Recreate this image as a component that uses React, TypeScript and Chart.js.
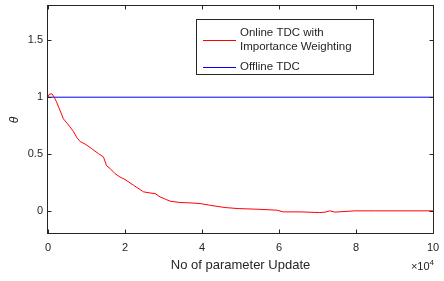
import React, { useEffect, useRef } from "react";
import { Chart, registerables } from "chart.js";
Chart.register(...registerables);

// Online TDC with Importance Weighting (x in parameter updates)
const onlineX = [0, 300, 1000, 1600, 2200, 3100, 4000, 5000, 5700, 6600, 7400, 8400, 9600, 11300, 13100, 14400, 15200, 16100, 17400, 18700, 20000, 22200, 24800, 26500, 27800, 29100, 30500, 31700, 34300, 36900, 39500, 41900, 46000, 49400, 54600, 59400, 61100, 65500, 70600, 72000, 73200, 74500, 79700, 85000, 100000];
const onlineY = [1.0, 1.025, 1.03, 1.0, 0.96, 0.886, 0.81, 0.77, 0.74, 0.7, 0.65, 0.61, 0.59, 0.55, 0.505, 0.476, 0.4, 0.375, 0.33, 0.3, 0.278, 0.228, 0.17, 0.16, 0.155, 0.126, 0.105, 0.088, 0.076, 0.073, 0.067, 0.053, 0.032, 0.023, 0.017, 0.009, -0.006, -0.006, -0.012, -0.008, 0.003, -0.008, 0.003, 0.003, 0.003];

// Offline TDC
const offlineX = [0, 100000];
const offlineY = [1.0, 1.0];

const xTicks = [0, 20000, 40000, 60000, 80000, 100000];
const yTicks = [0, 0.5, 1, 1.5];
const xTitle = "No of parameter Update";
const yTitle = "\u03b8";
const xExponent = "4";
const legendLines = [["Online TDC with", "Importance Weighting"], ["Offline TDC"]];
const seriesColors = ["#ff0000", "#0000ff"];

const AXIS = "#262626";
const FONT = "'Liberation Sans', Arial, sans-serif";

const deco = {
  id: "deco",
  afterDatasetsDraw(chart: any) {
    const { ctx, chartArea: a, scales } = chart;
    const xs = scales.x;
    const ys = scales.y;
    ctx.save();
    ctx.strokeStyle = AXIS;
    ctx.lineWidth = 1;
    const L = Math.round(a.left) - 0.5, R = Math.round(a.right) + 0.5, T = Math.round(a.top) - 0.5, B = Math.round(a.bottom) - 0.5;
    ctx.strokeRect(L, T, R - L, B - T);
    const tl = 4;
    ctx.beginPath();
    for (const v of xTicks) {
      const px = Math.round(xs.getPixelForValue(v)) + 0.5;
      ctx.moveTo(px, B); ctx.lineTo(px, B - tl);
      ctx.moveTo(px, T); ctx.lineTo(px, T + tl);
    }
    for (const v of yTicks) {
      const py = Math.round(ys.getPixelForValue(v)) + 0.5;
      ctx.moveTo(L, py); ctx.lineTo(L + tl, py);
      ctx.moveTo(R, py); ctx.lineTo(R - tl, py);
    }
    ctx.stroke();
    ctx.restore();
  },
  afterDraw(chart: any) {
    const { ctx, chartArea: a } = chart;
    ctx.save();
    ctx.fillStyle = AXIS;
    ctx.font = `italic 12px ${FONT}`;
    ctx.textAlign = "center";
    ctx.textBaseline = "middle";
    ctx.translate(15, (a.top + a.bottom) / 2);
    ctx.rotate(-Math.PI / 2);
    ctx.fillText(yTitle, 0, 0);
    ctx.restore();

    ctx.save();
    ctx.fillStyle = AXIS;
    ctx.textBaseline = "alphabetic";
    ctx.font = `8px ${FONT}`;
    const ew = ctx.measureText(xExponent).width;
    ctx.textAlign = "right";
    ctx.fillText(xExponent, a.right + 1, 265);
    ctx.font = `11px ${FONT}`;
    ctx.fillText("\u00d710", a.right + 1 - ew, 270);
    ctx.restore();

    ctx.save();
    const bx = 196.5, by = 19.5, bw = 177, bh = 55;
    ctx.fillStyle = "#ffffff";
    ctx.fillRect(bx, by, bw, bh);
    ctx.strokeStyle = AXIS;
    ctx.lineWidth = 1;
    ctx.strokeRect(bx, by, bw, bh);
    ctx.font = `11.5px ${FONT}`;
    ctx.textAlign = "left";
    ctx.textBaseline = "middle";
    const rows = [[32.7, 47.3], [67]];
    legendLines.forEach((lines, i) => {
      const ys = rows[i];
      const mid = ys.reduce((s, v) => s + v, 0) / ys.length;
      ctx.strokeStyle = seriesColors[i];
      ctx.beginPath();
      ctx.moveTo(203, Math.round(mid) + 0.5);
      ctx.lineTo(236, Math.round(mid) + 0.5);
      ctx.stroke();
      ctx.fillStyle = AXIS;
      lines.forEach((t, j) => ctx.fillText(t, 240, ys[j]));
    });
    ctx.restore();
  },
};

export default function App() {
  const ref = useRef<HTMLCanvasElement | null>(null);
  useEffect(() => {
    if (!ref.current) return;
    const chart = new Chart(ref.current, {
      type: "line",
      data: {
        datasets: [
          {
            label: legendLines[0].join(" "),
            data: onlineX.map((x, i) => ({ x, y: onlineY[i] })),
            borderColor: seriesColors[0],
            borderWidth: 1,
            pointRadius: 0,
            tension: 0,
            fill: false,
          },
          {
            label: legendLines[1].join(" "),
            data: offlineX.map((x, i) => ({ x, y: offlineY[i] })),
            borderColor: seriesColors[1],
            borderWidth: 1,
            pointRadius: 0,
            tension: 0,
            fill: false,
          },
        ],
      },
      options: {
        responsive: false,
        animation: false,
        layout: { padding: { left: 0, top: 6, right: 11, bottom: 0 } },
        plugins: { legend: { display: false }, tooltip: { enabled: false } },
        scales: {
          x: {
            type: "linear",
            min: 0,
            max: 100000,
            grid: { display: false, drawTicks: false },
            border: { display: false },
            afterFit: (s: any) => { s.height = 47; s.paddingLeft = 0; s.paddingRight = 0; },
            afterBuildTicks: (s: any) => { s.ticks = xTicks.map((v) => ({ value: v })); },
            ticks: {
              padding: 7,
              color: AXIS,
              font: { family: FONT, size: 11 },
              maxRotation: 0,
              autoSkip: false,
              callback: (v: any) => String(Number(v) / 10000),
            },
            title: {
              display: true,
              text: xTitle,
              color: AXIS,
              font: { family: FONT, size: 13 },
              padding: { top: 0, bottom: 8 },
            },
          },
          y: {
            type: "linear",
            min: -0.2,
            max: 1.8,
            grid: { display: false, drawTicks: false },
            border: { display: false },
            afterFit: (s: any) => { s.width = 48; s.paddingTop = 0; s.paddingBottom = 0; },
            afterBuildTicks: (s: any) => { s.ticks = yTicks.map((v) => ({ value: v })); },
            ticks: {
              padding: 5,
              color: AXIS,
              font: { family: FONT, size: 11 },
              autoSkip: false,
              callback: (v: any) => String(v),
            },
          },
        },
      },
      plugins: [deco],
    } as any);
    return () => chart.destroy();
  }, []);
  return (
    <div style={{ position: "absolute", left: 0, top: 0, width: 444, height: 281, background: "#fff" }}>
      <canvas ref={ref} width={444} height={281} style={{ display: "block" }} />
    </div>
  );
}
